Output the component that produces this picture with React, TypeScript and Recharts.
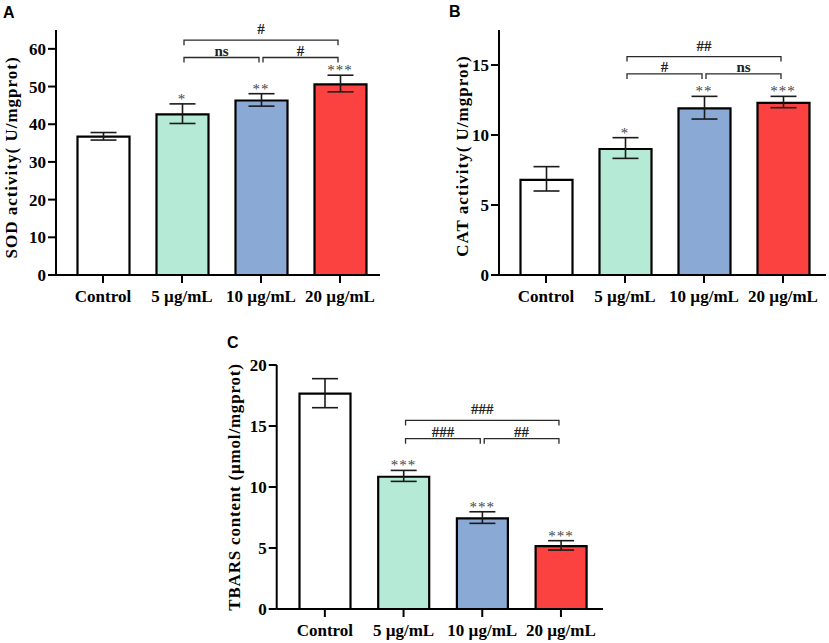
import React from 'react';
import { BarChart, Bar, XAxis, YAxis, Cell, ErrorBar, ReferenceLine, ReferenceDot } from 'recharts';

const categories = ['Control', '5 µg/mL', '10 µg/mL', '20 µg/mL'];
const barColors = ['#ffffff', '#b4ead6', '#8aaad5', '#fc4141'];

// Panel A – SOD activity
const sodMean = [36.7, 42.6, 46.3, 50.6];
const sodLow = [35.8, 40.2, 44.8, 48.6];
const sodHigh = [37.8, 45.4, 48.1, 53.0];
const sodStars = ['', '*', '**', '***'];
const sodTicks = [0, 10, 20, 30, 40, 50, 60];
const sodBrackets = [
  { from: '5 µg/mL', to: '10 µg/mL', y: 57.7, text: 'ns', level: 0 },
  { from: '10 µg/mL', to: '20 µg/mL', y: 57.7, text: '#', level: 0 },
  { from: '5 µg/mL', to: '20 µg/mL', y: 62.3, text: '#', level: 1 },
];

// Panel B – CAT activity
const catMean = [6.8, 9.0, 11.9, 12.3];
const catLow = [6.0, 8.33, 11.14, 11.95];
const catHigh = [7.74, 9.81, 12.76, 12.76];
const catStars = ['', '*', '**', '***'];
const catTicks = [0, 5, 10, 15];
const catBrackets = [
  { from: '5 µg/mL', to: '10 µg/mL', y: 14.36, text: '#', level: 0 },
  { from: '10 µg/mL', to: '20 µg/mL', y: 14.36, text: 'ns', level: 0 },
  { from: '5 µg/mL', to: '20 µg/mL', y: 15.6, text: '##', level: 1 },
];

// Panel C – TBARS content
const tbarsMean = [17.65, 10.84, 7.43, 5.16];
const tbarsLow = [16.5, 10.46, 7.02, 4.83];
const tbarsHigh = [18.88, 11.36, 7.97, 5.6];
const tbarsStars = ['', '***', '***', '***'];
const tbarsTicks = [0, 5, 10, 15, 20];
const tbarsBrackets = [
  { from: '5 µg/mL', to: '10 µg/mL', y: 13.96, text: '###', level: 0 },
  { from: '10 µg/mL', to: '20 µg/mL', y: 13.96, text: '##', level: 0 },
  { from: '5 µg/mL', to: '20 µg/mL', y: 15.46, text: '###', level: 1 },
];

const SERIF = '"Liberation Serif", "Times New Roman", serif';
const SANS = '"Liberation Sans", Arial, sans-serif';

function buildRows(mean: number[], low: number[], high: number[]) {
  return categories.map((c, i) => ({
    name: c,
    value: mean[i],
    err: [mean[i] - low[i], high[i] - mean[i]],
  }));
}

const BracketShape = (props: any) => {
  const { x1, y1, x2 } = props;
  const l = Math.min(x1, x2) + 2;
  const r = Math.max(x1, x2) - 2;
  const y = y1;
  return <path d={`M${l},${y + 5}V${y}H${r}V${y + 5}`} fill="none" stroke="#2a2a2a" strokeWidth={1.3} />;
};

type PanelProps = {
  left: number;
  top: number;
  width: number;
  height: number;
  margin: { top: number; right: number; bottom: number; left: number };
  padding: { left: number; right: number };
  barSize: number;
  domain: [number, number];
  ticks: number[];
  mean: number[];
  low: number[];
  high: number[];
  stars: string[];
  brackets: { from: string; to: string; y: number; text: string; level: number }[];
};

function Panel(p: PanelProps) {
  const rows = buildRows(p.mean, p.low, p.high);
  const axisStyle = { stroke: '#000', strokeWidth: 2 };
  const tickStyle = { fill: '#000', fontSize: 17, fontWeight: 700, fontFamily: SERIF };
  return (
    <div style={{ position: 'absolute', left: p.left, top: p.top }}>
      <BarChart width={p.width} height={p.height} data={rows} margin={p.margin}>
        <XAxis
          dataKey="name"
          padding={p.padding}
          axisLine={axisStyle}
          tickLine={axisStyle}
          tickSize={8}
          tickMargin={7}
          interval={0}
          tick={tickStyle}
        />
        <YAxis
          width={56}
          domain={p.domain}
          ticks={p.ticks}
          axisLine={axisStyle}
          tickLine={axisStyle}
          tickSize={8}
          tickMargin={2}
          tick={tickStyle}
          interval={0}
        />
        <Bar dataKey="value" barSize={p.barSize} stroke="#000" strokeWidth={2.2} isAnimationActive={false}>
          {rows.map((r, i) => (
            <Cell key={r.name} fill={barColors[i]} />
          ))}
          <ErrorBar dataKey="err" width={13} stroke="#1a1a1a" strokeWidth={1.6} direction="y" isAnimationActive={false} />
        </Bar>
        {p.brackets.map((b, i) => (
          <ReferenceLine
            key={'br' + i}
            segment={[
              { x: b.from, y: b.y },
              { x: b.to, y: b.y },
            ]}
            shape={BracketShape}
            stroke="#2a2a2a"
            label={{
              value: b.text,
              position: 'top',
              offset: b.level === 0 ? 2 : 6,
              fill: '#222',
              fontSize: 15,
              fontWeight: 700,
              fontFamily: SERIF,
            }}
          />
        ))}
        {p.stars.map((s, i) =>
          s ? (
            <ReferenceDot
              key={'st' + i}
              x={categories[i]}
              y={p.high[i]}
              r={0}
              fill="none"
              stroke="none"
              label={{
                value: s,
                position: 'top',
                offset: 0,
                fill: '#444',
                fontSize: 15,
                fontFamily: SERIF,
                letterSpacing: 1,
              }}
            />
          ) : null
        )}
      </BarChart>
    </div>
  );
}

export default function App() {
  return (
    <div style={{ position: 'absolute', left: 0, top: 0, width: 829, height: 643, background: '#fff' }}>
      <Panel
        left={0}
        top={0}
        width={400}
        height={320}
        margin={{ top: 30, right: 20, bottom: 15, left: 0 }}
        padding={{ left: 7.5, right: 0.5 }}
        barSize={52}
        domain={[0, 65]}
        ticks={sodTicks}
        mean={sodMean}
        low={sodLow}
        high={sodHigh}
        stars={sodStars}
        brackets={sodBrackets}
      />
      <Panel
        left={420}
        top={0}
        width={409}
        height={320}
        margin={{ top: 30, right: 3, bottom: 15, left: 23 }}
        padding={{ left: 7.5, right: 3.5 }}
        barSize={52}
        domain={[0, 17.5]}
        ticks={catTicks}
        mean={catMean}
        low={catLow}
        high={catHigh}
        stars={catStars}
        brackets={catBrackets}
      />
      <Panel
        left={150}
        top={320}
        width={470}
        height={323}
        margin={{ top: 45, right: 17, bottom: 4, left: 70.7 }}
        padding={{ left: 8.8, right: 2.7 }}
        barSize={51}
        domain={[0, 20]}
        ticks={tbarsTicks}
        mean={tbarsMean}
        low={tbarsLow}
        high={tbarsHigh}
        stars={tbarsStars}
        brackets={tbarsBrackets}
      />
      <svg width={829} height={643} style={{ position: 'absolute', left: 0, top: 0, pointerEvents: 'none' }}>
        <text x={3} y={18} fontFamily={SANS} fontWeight={700} fontSize={16} fill="#000">A</text>
        <text x={449} y={17} fontFamily={SANS} fontWeight={700} fontSize={16} fill="#000">B</text>
        <text x={227} y={348} fontFamily={SANS} fontWeight={700} fontSize={16} fill="#000">C</text>
        <text transform="translate(17,157.5) rotate(-90)" textAnchor="middle" fontFamily={SERIF} fontWeight={700} fontSize={17} letterSpacing={1} fill="#000">
          SOD activity( U/mgprot)
        </text>
        <text transform="translate(468,156) rotate(-90)" textAnchor="middle" fontFamily={SERIF} fontWeight={700} fontSize={17} letterSpacing={1} fill="#000">
          CAT activity( U/mgprot)
        </text>
        <text transform="translate(240,487) rotate(-90)" textAnchor="middle" fontFamily={SERIF} fontWeight={700} fontSize={17} letterSpacing={0.8} fill="#000">
          TBARS content (µmol/mgprot)
        </text>
      </svg>
    </div>
  );
}
